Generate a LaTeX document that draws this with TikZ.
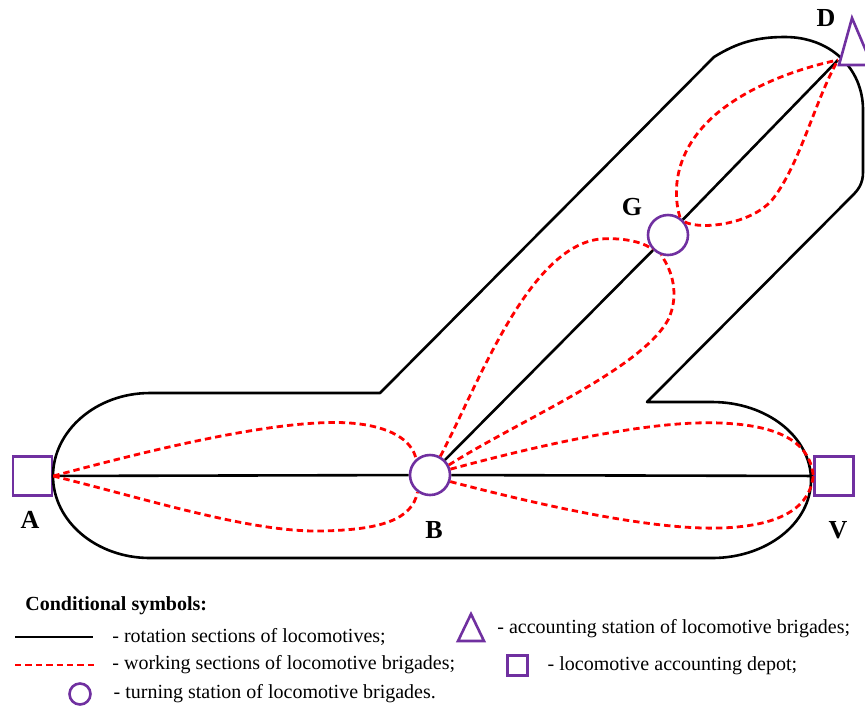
\documentclass[tikz,border=0pt]{standalone}
\usepackage{fontspec}
\setmainfont{Liberation Serif}
\usetikzlibrary{positioning}
\definecolor{stpurple}{HTML}{7030A0}

\begin{document}
\begin{tikzpicture}[
	x=0.5pt, y=-0.5pt,
	rotation/.style={line width=1.3pt, black},
	working/.style={line width=1.4pt, red, dash pattern=on 3.2pt off 2pt},
	depot/.style={draw=stpurple, line width=1.3pt, fill=white, rectangle, minimum size=19.5pt, inner sep=0pt},
	turning/.style={draw=stpurple, line width=1.3pt, fill=white, circle, minimum size=20pt, inner sep=0pt},
	accounting/.style={draw=stpurple, line width=1.3pt, fill=white, line join=miter},
	tag/.style={font=\fontsize{13}{15}\selectfont\bfseries, inner sep=0pt},
	legend/.style={font=\fontsize{10}{12}\selectfont, inner sep=0pt, anchor=west}
	]
	\useasboundingbox (0,0) rectangle (865,708);
	
	\node[depot] (A) at (32.5,476) {};
	\node[turning] (B) at (430,475) {};
	\node[depot] (V) at (834,476) {};
	\node[turning] (G) at (668,235) {};
	\coordinate (D) at (838,60);
	
	\node[tag] (labA) at (30,520) {A};
	\node[tag] (labB) at (434,530) {B};
	\node[tag] (labV) at (838,530) {V};
	\node[tag] (labG) at (632,207) {G};
	\node[tag] (labD) at (826,18) {D};
	
	\draw[rotation, line join=round] (380,393) -- (714,57)
		.. controls (738,42) and (758,37) .. (785,37)
		.. controls (830,37) and (863,68) .. (863,110)
		-- (863,172)
		.. controls (863,184) and (858,190) .. (852,196)
		-- (647,402) -- (712,402)
		.. controls (767,402) and (811,437) .. (811,480)
		.. controls (811,523) and (767,558) .. (712,558)
		-- (150,558)
		.. controls (96,558) and (53,521) .. (53,476)
		.. controls (53,431) and (96,393) .. (150,393)
		-- cycle;
	
	\draw[rotation] (A) -- (B);
	\draw[rotation] (B) -- (V);
	\draw[rotation] (B) -- (G);
	\draw[rotation] (G) -- (D);
	
	\draw[working] (A.east) .. controls (150,450) and (280,418) .. (350,423)
		.. controls (390,426) and (412,440) .. (B.131);
	\draw[working] (A.east) .. controls (150,500) and (250,532) .. (320,531)
		.. controls (380,530) and (412,520) .. (B.234);
	\draw[working] (B.16) .. controls (540,445) and (650,420) .. (720,423)
		.. controls (775,425) and (810,440) .. (V.west);
	\draw[working] (B.-18) .. controls (540,505) and (650,530) .. (720,528)
		.. controls (785,526) and (810,505) .. (V.west);
	\draw[working] (B.61) .. controls (478,385) and (528,247) .. (600,239)
		.. controls (630,237) and (648,245) .. (G.223);
	\draw[working] (B.28) .. controls (520,420) and (640,370) .. (668,320)
		.. controls (680,295) and (672,270) .. (G.251);
	\draw[working] (G.56) .. controls (672,190) and (675,150) .. (715,115)
		.. controls (750,85) and (800,68) .. (D);
	\draw[working] (G.38) .. controls (700,230) and (750,225) .. (772,200)
		.. controls (800,165) and (815,100) .. (D);
	
	\draw[accounting] (839,65) -- (852,18) -- (872,65) -- cycle;
	
	\node[legend, font=\fontsize{10}{12}\selectfont\bfseries] (title) at (25,606) {Conditional symbols:};
	\coordinate (rotS) at (15,637);
	\coordinate (rotE) at (93,637);
	\draw[rotation] (rotS) -- (rotE);
	\node[legend, right=9.5pt of rotE] (lrot) {- rotation sections of locomotives;};
	\coordinate (workS) at (15,665);
	\coordinate (workE) at (95,665);
	\draw[working] (workS) -- (workE);
	\node[legend, right=8.5pt of workE] (lwork) {- working sections of locomotive brigades;};
	\node[turning, minimum size=10.5pt] (lturn) at (80,694) {};
	\node[legend, right=10.75pt of lturn] (lturntxt) {- turning station of locomotive brigades.};
	\draw[accounting] (458,641) -- (471,614) -- (484,641) -- cycle;
	\node[legend] (lacc) at (497,629) {- accounting station of locomotive brigades;};
	\node[depot, minimum size=10pt] (ldep) at (517.5,665.5) {};
	\node[legend, right=9.25pt of ldep] (ldeptxt) {- locomotive accounting depot;};
\end{tikzpicture}
\end{document}
